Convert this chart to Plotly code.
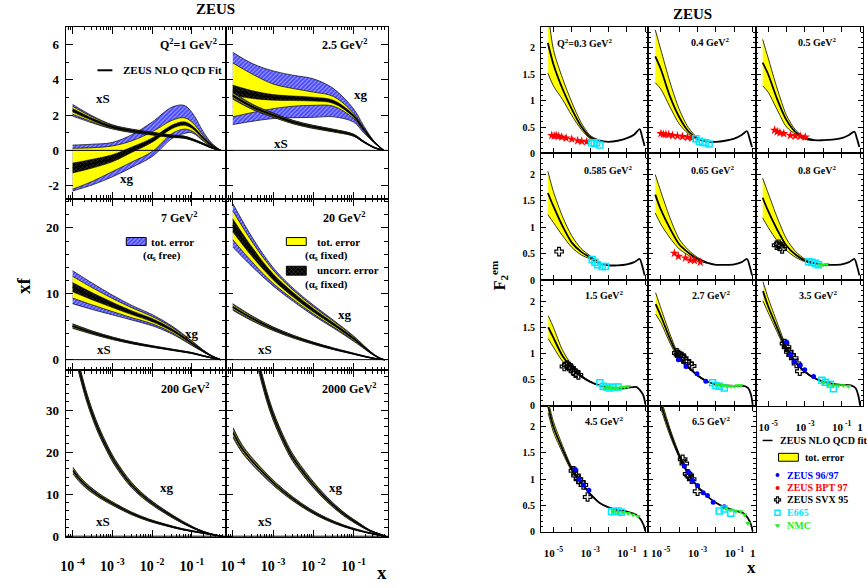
import plotly.graph_objects as go

W, H = 867, 588
SERIF = "Liberation Serif"

# ======================= LEFT: parton densities xf =======================
# log10(x) sample points and values
# ---- Q2 = 1 GeV2
LX_Q1 = [-4.0, -3.5, -3.0, -2.5, -2.0, -1.5, -1.2, -1.0, -0.7, -0.5, -0.28]
XG_Q1 = [-1.0, -0.75, -0.45, 0.05, 0.58, 1.33, 1.52, 1.33, 0.67, 0.28, 0.0]
XG_Q1_TOT_LO = [-2.3, -1.95, -1.5, -0.95, -0.35, 0.67, 0.95, 1.0, 0.5, 0.18, 0.0]
XG_Q1_TOT_HI = [0.3, 0.35, 0.45, 0.9, 1.6, 2.45, 2.55, 2.15, 1.0, 0.4, 0.0]
XG_Q1_FIX_LO = [-2.2, -1.75, -1.2, -0.65, -0.07, 0.95, 1.2, 1.1, 0.55, 0.2, 0.0]
XG_Q1_FIX_HI = [0.12, 0.15, 0.25, 0.55, 1.05, 1.7, 1.85, 1.6, 0.8, 0.35, 0.0]
XG_Q1_UNC = [0.28, 0.25, 0.2, 0.15, 0.12, 0.1, 0.1, 0.08, 0.06, 0.04, 0.0]
XS_Q1 = [2.27, 1.75, 1.33, 1.1, 0.95, 0.8, 0.75, 0.62, 0.35, 0.15, 0.0]
XS_Q1_TOT = [0.33, 0.2, 0.12, 0.1, 0.08, 0.07, 0.06, 0.05, 0.04, 0.03, 0.0]
XS_Q1_FIX = [0.22, 0.14, 0.09, 0.07, 0.06, 0.05, 0.05, 0.04, 0.03, 0.02, 0.0]
XS_Q1_UNC = [0.1, 0.07, 0.06, 0.05, 0.05, 0.04, 0.04, 0.03, 0.03, 0.02, 0.0]
# ---- Q2 = 2.5 GeV2
LX_Q25 = [-4.0, -3.5, -3.0, -2.5, -2.0, -1.5, -1.0, -0.75, -0.5, -0.25]
XG_Q25 = [3.4, 3.15, 3.0, 2.95, 2.9, 2.75, 1.95, 1.2, 0.5, 0.0]
XG_Q25_TOT_LO = [1.46, 1.65, 1.8, 1.85, 1.87, 1.9, 1.6, 1.0, 0.45, 0.0]
XG_Q25_TOT_HI = [5.55, 4.9, 4.5, 4.25, 4.05, 3.5, 2.35, 1.4, 0.55, 0.0]
XG_Q25_FIX_LO = [1.9, 2.15, 2.36, 2.5, 2.55, 2.5, 1.8, 1.1, 0.47, 0.0]
XG_Q25_FIX_HI = [4.95, 4.3, 3.76, 3.5, 3.3, 3.05, 2.1, 1.28, 0.53, 0.0]
XG_Q25_UNC = [0.3, 0.22, 0.16, 0.13, 0.11, 0.09, 0.07, 0.05, 0.03, 0.0]
XS_Q25 = [3.1, 2.45, 2.0, 1.6, 1.33, 1.12, 0.86, 0.49, 0.17, 0.0]
XS_Q25_TOT = [0.2, 0.15, 0.12, 0.1, 0.09, 0.08, 0.06, 0.04, 0.02, 0.0]
XS_Q25_FIX = [0.15, 0.11, 0.09, 0.08, 0.07, 0.06, 0.05, 0.03, 0.02, 0.0]
XS_Q25_UNC = [0.08, 0.06, 0.05, 0.05, 0.04, 0.04, 0.03, 0.02, 0.01, 0.0]
# ---- Q2 = 7 GeV2
LX_Q7 = [-4.0, -3.5, -3.0, -2.5, -2.0, -1.5, -1.0, -0.7, -0.5, -0.28]
XG_Q7 = [11.0, 9.6, 8.3, 7.1, 6.0, 4.5, 2.5, 1.25, 0.55, 0.0]
XG_Q7_TOT = [2.5, 2.0, 1.5, 1.1, 0.85, 0.6, 0.35, 0.15, 0.06, 0.0]
XG_Q7_FIX = [1.65, 1.3, 1.0, 0.75, 0.55, 0.4, 0.25, 0.1, 0.04, 0.0]
XG_Q7_UNC = [0.7, 0.55, 0.4, 0.3, 0.25, 0.18, 0.12, 0.06, 0.03, 0.0]
XS_Q7 = [5.1, 4.1, 3.25, 2.55, 2.0, 1.5, 1.0, 0.55, 0.27, 0.0]
XS_Q7_TOT = [0.35, 0.25, 0.2, 0.15, 0.12, 0.1, 0.08, 0.06, 0.04, 0.0]
XS_Q7_FIX = [0.25, 0.18, 0.14, 0.11, 0.09, 0.07, 0.06, 0.04, 0.03, 0.0]
XS_Q7_UNC = [0.12, 0.09, 0.07, 0.06, 0.05, 0.04, 0.03, 0.02, 0.02, 0.0]
# ---- Q2 = 20 GeV2
LX_Q20 = [-4.0, -3.5, -3.0, -2.5, -2.0, -1.5, -1.0, -0.7, -0.5, -0.3, -0.22]
XG_Q20 = [20.4, 16.2, 12.6, 9.85, 7.5, 5.4, 3.2, 1.7, 0.75, 0.1, 0.0]
XG_Q20_TOT = [3.3, 2.2, 1.4, 1.0, 0.8, 0.6, 0.4, 0.2, 0.1, 0.03, 0.0]
XG_Q20_FIX = [2.2, 1.5, 1.0, 0.7, 0.55, 0.42, 0.28, 0.14, 0.07, 0.02, 0.0]
XG_Q20_UNC = [1.0, 0.7, 0.45, 0.35, 0.28, 0.2, 0.14, 0.08, 0.04, 0.01, 0.0]
XS_Q20 = [8.0, 6.2, 4.7, 3.5, 2.5, 1.65, 0.9, 0.45, 0.2, 0.03, 0.0]
XS_Q20_TOT = [0.5, 0.38, 0.28, 0.22, 0.17, 0.13, 0.09, 0.06, 0.04, 0.01, 0.0]
XS_Q20_FIX = [0.36, 0.27, 0.2, 0.16, 0.12, 0.09, 0.06, 0.04, 0.03, 0.01, 0.0]
XS_Q20_UNC = [0.16, 0.12, 0.09, 0.07, 0.05, 0.04, 0.03, 0.02, 0.02, 0.0, 0.0]
# ---- Q2 = 200 GeV2
LX_Q200_G = [-4.0, -3.84, -3.675, -3.51, -3.34, -3.13, -2.925, -2.51, -2.09, -1.675, -1.26, -0.84, -0.59, -0.34, -0.25]
XG_Q200 = [46.0, 39.9, 34.0, 29.2, 25.1, 20.9, 17.4, 12.1, 8.5, 5.8, 3.45, 1.5, 0.7, 0.15, 0.0]
XG_Q200_TOT = [1.3, 1.2, 1.1, 1.0, 0.95, 0.85, 0.8, 0.65, 0.5, 0.4, 0.3, 0.15, 0.08, 0.03, 0.0]
XG_Q200_FIX = [0.9, 0.85, 0.78, 0.7, 0.66, 0.6, 0.55, 0.45, 0.35, 0.28, 0.2, 0.1, 0.05, 0.02, 0.0]
XG_Q200_UNC = [0.35, 0.32, 0.3, 0.28, 0.26, 0.24, 0.22, 0.18, 0.14, 0.11, 0.08, 0.04, 0.02, 0.01, 0.0]
LX_Q200_S = [-3.99, -3.76, -3.34, -2.925, -2.51, -2.09, -1.675, -1.26, -0.84, -0.51, -0.26]
XS_Q200 = [15.6, 12.9, 9.7, 7.4, 5.4, 3.85, 2.7, 1.7, 0.95, 0.4, 0.0]
XS_Q200_TOT = [0.8, 0.65, 0.5, 0.4, 0.32, 0.26, 0.2, 0.15, 0.1, 0.05, 0.0]
XS_Q200_FIX = [0.6, 0.48, 0.37, 0.3, 0.24, 0.19, 0.15, 0.11, 0.07, 0.04, 0.0]
XS_Q200_UNC = [0.25, 0.2, 0.16, 0.12, 0.1, 0.08, 0.06, 0.05, 0.03, 0.02, 0.0]
# ---- Q2 = 2000 GeV2
LX_Q2000_G = [-3.5, -3.34, -3.175, -3.01, -2.84, -2.675, -2.51, -2.09, -1.675, -1.26, -0.84, -0.59, -0.34, -0.2]
XG_Q2000 = [46.0, 39.9, 33.9, 29.0, 25.0, 21.6, 18.7, 13.3, 8.9, 5.4, 2.7, 1.3, 0.45, 0.0]
XG_Q2000_TOT = [1.4, 1.3, 1.2, 1.1, 1.0, 0.95, 0.9, 0.75, 0.6, 0.45, 0.3, 0.15, 0.06, 0.0]
XG_Q2000_FIX = [1.0, 0.95, 0.88, 0.8, 0.74, 0.7, 0.66, 0.55, 0.44, 0.33, 0.22, 0.11, 0.04, 0.0]
XG_Q2000_UNC = [0.45, 0.42, 0.4, 0.37, 0.34, 0.32, 0.3, 0.25, 0.2, 0.15, 0.1, 0.05, 0.02, 0.0]
LX_Q2000_S = [-3.99, -3.76, -3.34, -2.925, -2.51, -2.09, -1.675, -1.26, -0.84, -0.51, -0.26, -0.2]
XS_Q2000 = [24.6, 20.7, 16.0, 12.1, 8.9, 6.2, 4.1, 2.5, 1.3, 0.55, 0.1, 0.0]
XS_Q2000_TOT = [1.2, 0.95, 0.75, 0.6, 0.48, 0.38, 0.3, 0.22, 0.14, 0.07, 0.02, 0.0]
XS_Q2000_FIX = [0.9, 0.7, 0.55, 0.45, 0.36, 0.28, 0.22, 0.16, 0.1, 0.05, 0.01, 0.0]
XS_Q2000_UNC = [0.35, 0.28, 0.22, 0.18, 0.14, 0.11, 0.09, 0.06, 0.04, 0.02, 0.01, 0.0]

LEFT_XTICK_LX = [-4, -3, -2, -1]
LEFT_XTICK_TEXT = ["10<sup> -4</sup>", "10<sup> -3</sup>", "10<sup> -2</sup>", "10<sup> -1</sup>"]

# ======================= RIGHT: F2 em =======================
LXF_A = [-5.3, -5.0, -4.5, -4.0, -3.5, -3.0, -2.5, -2.0, -1.5, -1.0, -0.6, -0.31, -0.17, -0.04]
LXF_B = [-5.28, -5.0, -4.5, -4.0, -3.5, -3.0, -2.5, -2.0, -1.5, -1.0, -0.5, -0.25, -0.1, 0.0]
LXF_C = [-5.07, -5.0, -4.5, -4.0, -3.5, -3.0, -2.5, -2.0, -1.5, -1.0, -0.5, -0.25, -0.1, 0.0]

F2_Q03 = [2.09, 1.69, 1.22, 0.84, 0.52, 0.31, 0.24, 0.22, 0.24, 0.29, 0.36, 0.46, 0.31, 0.14]
F2_Q03_UP = [2.75, 1.97, 1.42, 0.97, 0.59, 0.34, 0.25]
F2_Q03_LO = [1.52, 1.28, 1.02, 0.72, 0.46, 0.28, 0.23]
F2_Q04 = [1.84, 1.6, 1.08, 0.69, 0.42, 0.28, 0.23, 0.22, 0.24, 0.28, 0.35, 0.42, 0.28, 0.12]
F2_Q04_UP = [2.34, 1.97, 1.35, 0.84, 0.49, 0.3, 0.24]
F2_Q04_LO = [1.34, 1.22, 0.88, 0.56, 0.37, 0.26, 0.22]
F2_Q05 = [1.72, 1.5, 1.02, 0.63, 0.4, 0.29, 0.25, 0.25, 0.26, 0.29, 0.35, 0.41, 0.28, 0.12]
F2_Q05_UP = [2.16, 1.81, 1.22, 0.72, 0.44, 0.31, 0.26]
F2_Q05_LO = [1.28, 1.16, 0.82, 0.5, 0.36, 0.27, 0.24]
F2_Q0585 = [1.65, 1.4, 1.02, 0.71, 0.54, 0.43, 0.32, 0.28, 0.28, 0.3, 0.34, 0.4, 0.27, 0.09]
F2_Q0585_UP = [2.06, 1.68, 1.2, 0.84, 0.6, 0.46, 0.33]
F2_Q0585_LO = [1.24, 1.09, 0.84, 0.62, 0.48, 0.4, 0.31]
F2_Q065 = [1.62, 1.34, 0.98, 0.68, 0.52, 0.4, 0.33, 0.29, 0.29, 0.3, 0.34, 0.4, 0.27, 0.09]
F2_Q065_UP = [2.0, 1.68, 1.18, 0.78, 0.57, 0.43, 0.34]
F2_Q065_LO = [1.27, 1.06, 0.8, 0.59, 0.47, 0.38, 0.32]
F2_Q08 = [1.56, 1.31, 0.95, 0.65, 0.48, 0.37, 0.32, 0.29, 0.29, 0.3, 0.34, 0.4, 0.27, 0.09]
F2_Q08_UP = [1.93, 1.65, 1.18, 0.78, 0.54, 0.4, 0.33]
F2_Q08_LO = [1.18, 1.0, 0.74, 0.56, 0.43, 0.35, 0.31]
F2_Q15 = [1.5, 1.3, 0.95, 0.73, 0.57, 0.46, 0.39, 0.35, 0.33, 0.34, 0.36, 0.28, 0.19, 0.03]
F2_Q15_UP = [1.72, 1.5, 1.06, 0.78, 0.59, 0.47, 0.395]
F2_Q15_LO = [1.28, 1.12, 0.85, 0.68, 0.55, 0.45, 0.385]
F2_Q27 = [1.94, 1.72, 1.28, 0.92, 0.74, 0.58, 0.47, 0.41, 0.39, 0.38, 0.38, 0.34, 0.22, 0.02]
F2_Q27_UP = [2.16, 1.87, 1.37, 0.96, 0.76, 0.59, 0.48]
F2_Q27_LO = [1.75, 1.59, 1.2, 0.88, 0.72, 0.57, 0.46]
F2_Q35 = [2.19, 1.9, 1.48, 1.08, 0.83, 0.65, 0.53, 0.46, 0.42, 0.4, 0.39, 0.34, 0.2, 0.0]
F2_Q35_UP = [2.37, 2.06, 1.58, 1.13, 0.85, 0.66, 0.54]
F2_Q35_LO = [2.0, 1.78, 1.4, 1.03, 0.8, 0.64, 0.52]
F2_Q45 = [2.38, 2.0, 1.57, 1.19, 0.94, 0.72, 0.55, 0.46, 0.41, 0.38, 0.32, 0.23, 0.13, 0.0]
F2_Q45_UP = [2.5, 2.1, 1.64, 1.23, 0.96, 0.73, 0.56]
F2_Q45_LO = [2.26, 1.9, 1.5, 1.15, 0.92, 0.71, 0.54]
F2_Q65 = [2.55, 2.45, 1.9, 1.45, 1.1, 0.86, 0.68, 0.55, 0.46, 0.4, 0.35, 0.25, 0.14, 0.0]
F2_Q65_UP = [2.65, 2.55, 1.97, 1.49, 1.12, 0.87, 0.69]
F2_Q65_LO = [2.45, 2.35, 1.83, 1.41, 1.08, 0.85, 0.67]

# data points (log10 x, F2)
Q03_BPT_LX = [-5.09, -4.96, -4.85, -4.73, -4.55, -4.31, -4.0, -3.68, -3.46, -3.19]
Q03_BPT_F2 = [0.34, 0.33, 0.34, 0.325, 0.31, 0.29, 0.27, 0.24, 0.23, 0.22]
Q03_E665_LX = [-2.92, -2.78, -2.65, -2.47]
Q03_E665_F2 = [0.2, 0.19, 0.2, 0.16]
Q04_BPT_LX = [-4.99, -4.86, -4.72, -4.57, -4.36, -4.09, -3.82, -3.55, -3.32]
Q04_BPT_F2 = [0.375, 0.36, 0.36, 0.356, 0.34, 0.33, 0.32, 0.306, 0.29]
Q04_E665_LX = [-3.09, -2.91, -2.73, -2.55, -2.37]
Q04_E665_F2 = [0.28, 0.23, 0.21, 0.2, 0.18]
Q05_BPT_LX = [-4.65, -4.51, -4.36, -4.15, -3.79, -3.52, -3.25, -2.98]
Q05_BPT_F2 = [0.44, 0.41, 0.39, 0.375, 0.34, 0.33, 0.325, 0.31]
Q0585_SVX_LX = [-4.69]
Q0585_SVX_F2 = [0.54]
Q0585_E665_LX = [-2.89, -2.74, -2.6, -2.35, -2.17]
Q0585_E665_F2 = [0.39, 0.34, 0.29, 0.26, 0.26]
Q065_BPT_LX = [-4.26, -4.04, -3.66, -3.39, -3.17, -2.85]
Q065_BPT_F2 = [0.51, 0.45, 0.42, 0.38, 0.37, 0.34]
Q08_SVX_LX = [-4.54, -4.42, -4.33, -4.24]
Q08_SVX_F2 = [0.66, 0.68, 0.64, 0.59]
Q08_E665_LX = [-2.8, -2.62, -2.44, -2.26]
Q08_E665_F2 = [0.35, 0.34, 0.32, 0.29]
Q08_NMC_LX = [-2.17, -1.99, -1.81]
Q08_NMC_F2 = [0.29, 0.29, 0.3]
Q15_SVX_LX = [-4.4, -4.27, -4.15, -4.04, -3.91, -3.79, -3.64]
Q15_SVX_F2 = [0.75, 0.78, 0.75, 0.72, 0.66, 0.625, 0.59]
Q15_E665_LX = [-2.47, -2.29, -2.11, -1.93, -1.75, -1.48]
Q15_E665_F2 = [0.44, 0.375, 0.36, 0.34, 0.36, 0.36]
Q15_NMC_LX = [-2.2, -2.02, -1.84, -1.66, -1.48, -1.3, -1.12, -0.94]
Q15_NMC_F2 = [0.34, 0.35, 0.34, 0.34, 0.34, 0.35, 0.36, 0.37]
Q27_SVX_LX = [-4.13, -4.04, -3.95, -3.86, -3.75, -3.63, -3.45, -3.32]
Q27_SVX_F2 = [1.01, 0.98, 0.95, 0.94, 0.91, 0.84, 0.8, 0.76]
Q27_ZEUS_LX = [-4.04, -3.63, -3.03, -2.55]
Q27_ZEUS_F2 = [0.88, 0.75, 0.61, 0.47]
Q27_E665_LX = [-2.18, -2.0, -1.82, -1.55]
Q27_E665_F2 = [0.44, 0.39, 0.375, 0.34]
Q27_NMC_LX = [-1.91, -1.73, -1.55, -1.37, -1.19, -1.01, -0.83, -0.65]
Q27_NMC_F2 = [0.4, 0.39, 0.39, 0.375, 0.375, 0.375, 0.39, 0.39]
Q35_SVX_LX = [-4.11, -4.0, -3.88, -3.75, -3.61, -3.46, -3.28]
Q35_SVX_F2 = [1.19, 1.12, 1.03, 0.97, 0.91, 0.81, 0.66]
Q35_ZEUS_LX = [-4.0, -3.78, -3.57, -3.25, -3.01, -2.53]
Q35_ZEUS_F2 = [1.22, 0.98, 0.84, 0.78, 0.69, 0.56]
Q35_E665_LX = [-2.08, -1.9, -1.63, -1.45]
Q35_E665_F2 = [0.49, 0.45, 0.41, 0.325]
Q35_NMC_LX = [-1.99, -1.72, -1.45, -1.18, -0.91, -0.64]
Q35_NMC_F2 = [0.44, 0.41, 0.39, 0.39, 0.39, 0.375]
Q45_SVX_LX = [-3.91, -3.77, -3.64, -3.5, -3.37, -3.14]
Q45_SVX_F2 = [1.16, 1.07, 1.0, 0.94, 0.89, 0.66]
Q45_ZEUS_LX = [-3.82, -3.61, -3.37, -3.07]
Q45_ZEUS_F2 = [1.19, 1.0, 0.89, 0.79]
Q45_E665_LX = [-1.84, -1.66, -1.48, -1.3]
Q45_E665_F2 = [0.38, 0.38, 0.39, 0.37]
Q45_NMC_LX = [-1.75, -1.48, -1.21, -0.94, -0.67, -0.4]
Q45_NMC_F2 = [0.38, 0.37, 0.37, 0.35, 0.32, 0.29]
Q65_SVX_LX = [-3.81, -3.72, -3.54, -3.45, -3.32, -3.0]
Q65_SVX_F2 = [1.38, 1.3, 1.1, 1.07, 1.0, 0.77]
Q65_ZEUS_LX = [-3.72, -3.5, -3.27, -3.0, -2.69, -2.46, -2.15, -1.55]
Q65_ZEUS_F2 = [1.25, 1.13, 0.975, 0.88, 0.74, 0.69, 0.56, 0.475]
Q65_E665_LX = [-1.82, -1.55, -1.19]
Q65_E665_F2 = [0.39, 0.43, 0.35]
Q65_NMC_LX = [-1.46, -1.19, -0.92, -0.65, -0.44, -0.26]
Q65_NMC_F2 = [0.44, 0.41, 0.39, 0.38, 0.32, 0.16]

RIGHT_XTICK_LX = [-5, -4, -3, -2, -1, 0]
RIGHT_XTICK_TEXT = ["10<sup> -5</sup>", "", "10<sup> -3</sup>", "", "10<sup> -1</sup>", "1"]
RIGHT_YTICKS = [0, 0.5, 1, 1.5, 2]
RIGHT_YTICK_TEXT = ["0", "0.5", "1", "1.5", "2"]

# ======================= helpers =======================
def fx(p):
    return p / W

def fy(p):
    return 1 - p / H

fig = go.Figure()
layout_axes = {}
n_ax = [0]

BLACK = "black"
BLUE_PAT = dict(shape="/", bgcolor="#4747ff", fgcolor="#ffffff", size=3, solidity=0.35)
UNC_PAT = dict(shape="x", bgcolor="#000000", fgcolor="#8a8a8a", size=3, solidity=0.3)
YELLOW = "#ffff00"


def new_axes(x0, x1, y0, y1, xr, yr, xtv, xtt, xminor, ytv, ytt, yminor, show_x, show_y,
             fsize, xfsize, tlen, xstand):
    n_ax[0] += 1
    i = n_ax[0]
    s = "" if i == 1 else str(i)
    tf = dict(family=SERIF, size=fsize, color=BLACK, weight="bold")
    xtf = dict(family=SERIF, size=xfsize, color=BLACK, weight="bold")
    xa = dict(type="log", domain=[fx(x0), fx(x1)], range=xr, anchor="y" + s,
              showline=True, linecolor=BLACK, linewidth=1, mirror="ticks",
              ticks="inside", ticklen=tlen, tickwidth=1, tickcolor=BLACK,
              tickmode="array", tickvals=[10 ** v for v in xtv], ticktext=xtt,
              showticklabels=show_x, tickfont=xtf, showgrid=False, zeroline=False,
              ticklabelstandoff=xstand)
    if xminor:
        xa["minor"] = dict(ticks="inside", ticklen=tlen * 0.5, tickcolor=BLACK,
                           tickmode="array", tickvals=xminor, showgrid=False)
    ya = dict(domain=[fy(y1), fy(y0)], range=yr, anchor="x" + s,
              showline=True, linecolor=BLACK, linewidth=1, mirror="ticks",
              ticks="inside", ticklen=tlen, tickwidth=1, tickcolor=BLACK,
              tickmode="array", tickvals=ytv, ticktext=ytt, showticklabels=show_y,
              tickfont=tf, showgrid=False, zeroline=False, ticklabelstandoff=3,
              minor=dict(ticks="inside", ticklen=tlen * 0.5, tickcolor=BLACK,
                         dtick=yminor, tick0=0, showgrid=False))
    layout_axes["xaxis" + s] = xa
    layout_axes["yaxis" + s] = ya
    return "x" + s, "y" + s


def band(xa, ya, lx, lo, hi, color=None, pattern=None, lw=0.7, sm=0.8):
    xs = [10 ** v for v in lx]
    fig.add_trace(go.Scatter(x=xs, y=lo, xaxis=xa, yaxis=ya, mode="lines",
                             line=dict(color=BLACK, width=lw, shape="spline", smoothing=sm),
                             hoverinfo="skip", showlegend=False))
    kw = dict(fill="tonexty")
    if pattern:
        kw["fillpattern"] = pattern
        kw["fillcolor"] = pattern["bgcolor"]
    else:
        kw["fillcolor"] = color
    fig.add_trace(go.Scatter(x=xs, y=hi, xaxis=xa, yaxis=ya, mode="lines",
                             line=dict(color=BLACK, width=lw, shape="spline", smoothing=sm),
                             hoverinfo="skip", showlegend=False, **kw))


def line(xa, ya, lx, ys, width=1.5, sm=0.8):
    fig.add_trace(go.Scatter(x=[10 ** v for v in lx], y=ys, xaxis=xa, yaxis=ya, mode="lines",
                             line=dict(color=BLACK, width=width, shape="spline", smoothing=sm),
                             hoverinfo="skip", showlegend=False))


def pm(c, h, sign):
    return [a + sign * b for a, b in zip(c, h)]


def pdf_curve(xa, ya, lx, c, tot, fix, unc):
    tlo, thi = tot if isinstance(tot, tuple) else (pm(c, tot, -1), pm(c, tot, 1))
    flo, fhi = fix if isinstance(fix, tuple) else (pm(c, fix, -1), pm(c, fix, 1))
    band(xa, ya, lx, tlo, thi, pattern=BLUE_PAT, sm=1.0)
    band(xa, ya, lx, flo, fhi, color=YELLOW, sm=1.0)
    band(xa, ya, lx, pm(c, unc, -1), pm(c, unc, 1), pattern=UNC_PAT, lw=0.5, sm=1.0)
    line(xa, ya, lx, c, width=1.2, sm=1.0)


def text(x, y, s, size, anchor="center", color=BLACK, angle=0):
    fig.add_annotation(x=fx(x), y=fy(y), xref="paper", yref="paper", text="<b>" + s + "</b>",
                       showarrow=False, xanchor=anchor, yanchor="middle", textangle=angle,
                       font=dict(family=SERIF, size=size, color=color))


# ======================= LEFT panels =======================
L_COLS = [(61, 222), (222, 385)]
L_ROWS = [(27, 201), (201, 374), (374, 543)]
L_XR = [-4.175, -0.15]
L_XMINOR = [k * 10 ** e for e in range(-5, 1) for k in range(2, 10)]
L_Y = [([-2.75, 7.0], [-2, 0, 2, 4, 6], 1),
       ([-1.6, 24.4], [0, 10, 20], 2),
       ([-0.3, 39.5], [0, 10, 20, 30], 2)]

left_panels = [
    (0, 0, [(LX_Q1, XG_Q1, (XG_Q1_TOT_LO, XG_Q1_TOT_HI), (XG_Q1_FIX_LO, XG_Q1_FIX_HI), XG_Q1_UNC),
            (LX_Q1, XS_Q1, XS_Q1_TOT, XS_Q1_FIX, XS_Q1_UNC)]),
    (0, 1, [(LX_Q25, XG_Q25, (XG_Q25_TOT_LO, XG_Q25_TOT_HI), (XG_Q25_FIX_LO, XG_Q25_FIX_HI), XG_Q25_UNC),
            (LX_Q25, XS_Q25, XS_Q25_TOT, XS_Q25_FIX, XS_Q25_UNC)]),
    (1, 0, [(LX_Q7, XG_Q7, XG_Q7_TOT, XG_Q7_FIX, XG_Q7_UNC),
            (LX_Q7, XS_Q7, XS_Q7_TOT, XS_Q7_FIX, XS_Q7_UNC)]),
    (1, 1, [(LX_Q20, XG_Q20, XG_Q20_TOT, XG_Q20_FIX, XG_Q20_UNC),
            (LX_Q20, XS_Q20, XS_Q20_TOT, XS_Q20_FIX, XS_Q20_UNC)]),
    (2, 0, [(LX_Q200_G, XG_Q200, XG_Q200_TOT, XG_Q200_FIX, XG_Q200_UNC),
            (LX_Q200_S, XS_Q200, XS_Q200_TOT, XS_Q200_FIX, XS_Q200_UNC)]),
    (2, 1, [(LX_Q2000_G, XG_Q2000, XG_Q2000_TOT, XG_Q2000_FIX, XG_Q2000_UNC),
            (LX_Q2000_S, XS_Q2000, XS_Q2000_TOT, XS_Q2000_FIX, XS_Q2000_UNC)]),
]

shapes = []
for r, c, curves in left_panels:
    (x0, x1), (y0, y1) = L_COLS[c], L_ROWS[r]
    yr, ytv, ymin = L_Y[r]
    xa, ya = new_axes(x0, x1, y0, y1, L_XR, yr, LEFT_XTICK_LX, LEFT_XTICK_TEXT, L_XMINOR,
                      ytv, [str(v) for v in ytv], ymin, r == 2, c == 0, 13, 14, 7, 16)
    for cv in curves:
        pdf_curve(xa, ya, *cv)
    shapes.append(dict(type="line", xref=xa + " domain", yref=ya, x0=0, x1=1, y0=0, y1=0,
                       line=dict(color=BLACK, width=1), layer="above"))

# ======================= RIGHT panels =======================
R_COLS = [(539, 647), (647, 755), (755, 863)]
R_ROWS = [(27, 155), (155, 283), (283, 410), (410, 537)]
R_XR = [-5.68, 0.16]
R_YR = [0, 2.4]

SYM = {
    "ZEUS": dict(symbol="circle", size=5, color="#0000ff"),
    "BPT": dict(symbol="star", size=7, color="#ff0000"),
    "SVX": dict(symbol="cross-open", size=7, color="#000000", line=dict(width=1.2, color="#000000")),
    "E665": dict(symbol="square-open", size=6, color="#00e8ff", line=dict(width=1.5, color="#00e8ff")),
    "NMC": dict(symbol="triangle-down", size=5, color="#22ee22"),
}

right_panels = [
    (0, 0, LXF_A, F2_Q03, F2_Q03_UP, F2_Q03_LO, [("BPT", Q03_BPT_LX, Q03_BPT_F2), ("E665", Q03_E665_LX, Q03_E665_F2)]),
    (0, 1, LXF_A, F2_Q04, F2_Q04_UP, F2_Q04_LO, [("BPT", Q04_BPT_LX, Q04_BPT_F2), ("E665", Q04_E665_LX, Q04_E665_F2)]),
    (0, 2, LXF_A, F2_Q05, F2_Q05_UP, F2_Q05_LO, [("BPT", Q05_BPT_LX, Q05_BPT_F2)]),
    (1, 0, LXF_A, F2_Q0585, F2_Q0585_UP, F2_Q0585_LO, [("SVX", Q0585_SVX_LX, Q0585_SVX_F2), ("E665", Q0585_E665_LX, Q0585_E665_F2)]),
    (1, 1, LXF_A, F2_Q065, F2_Q065_UP, F2_Q065_LO, [("BPT", Q065_BPT_LX, Q065_BPT_F2)]),
    (1, 2, LXF_A, F2_Q08, F2_Q08_UP, F2_Q08_LO, [("SVX", Q08_SVX_LX, Q08_SVX_F2), ("E665", Q08_E665_LX, Q08_E665_F2), ("NMC", Q08_NMC_LX, Q08_NMC_F2)]),
    (2, 0, LXF_B, F2_Q15, F2_Q15_UP, F2_Q15_LO, [("SVX", Q15_SVX_LX, Q15_SVX_F2), ("E665", Q15_E665_LX, Q15_E665_F2), ("NMC", Q15_NMC_LX, Q15_NMC_F2)]),
    (2, 1, LXF_B, F2_Q27, F2_Q27_UP, F2_Q27_LO, [("SVX", Q27_SVX_LX, Q27_SVX_F2), ("ZEUS", Q27_ZEUS_LX, Q27_ZEUS_F2), ("E665", Q27_E665_LX, Q27_E665_F2), ("NMC", Q27_NMC_LX, Q27_NMC_F2)]),
    (2, 2, LXF_B, F2_Q35, F2_Q35_UP, F2_Q35_LO, [("SVX", Q35_SVX_LX, Q35_SVX_F2), ("ZEUS", Q35_ZEUS_LX, Q35_ZEUS_F2), ("E665", Q35_E665_LX, Q35_E665_F2), ("NMC", Q35_NMC_LX, Q35_NMC_F2)]),
    (3, 0, LXF_B, F2_Q45, F2_Q45_UP, F2_Q45_LO, [("SVX", Q45_SVX_LX, Q45_SVX_F2), ("ZEUS", Q45_ZEUS_LX, Q45_ZEUS_F2), ("E665", Q45_E665_LX, Q45_E665_F2), ("NMC", Q45_NMC_LX, Q45_NMC_F2)]),
    (3, 1, LXF_C, F2_Q65, F2_Q65_UP, F2_Q65_LO, [("SVX", Q65_SVX_LX, Q65_SVX_F2), ("ZEUS", Q65_ZEUS_LX, Q65_ZEUS_F2), ("E665", Q65_E665_LX, Q65_E665_F2), ("NMC", Q65_NMC_LX, Q65_NMC_F2)]),
]

for r, c, lx, f2, up, lo, pts in right_panels:
    (x0, x1), (y0, y1) = R_COLS[c], R_ROWS[r]
    show_x = (r == 3) or (r == 2 and c == 2)
    xa, ya = new_axes(x0, x1, y0, y1, R_XR, R_YR, RIGHT_XTICK_LX, RIGHT_XTICK_TEXT, None,
                      RIGHT_YTICKS, RIGHT_YTICK_TEXT, 0.1, show_x, c == 0, 10, 11, 5, 11)
    band(xa, ya, lx[:len(up)], lo, up, color=YELLOW, lw=0.8)
    line(xa, ya, lx, f2, width=1.8)
    for name, plx, pf2 in pts:
        fig.add_trace(go.Scatter(x=[10 ** v for v in plx], y=pf2, xaxis=xa, yaxis=ya, mode="markers",
                                 marker=SYM[name], hoverinfo="skip", showlegend=False, cliponaxis=False))

# ======================= overlay axis for legend glyphs =======================
n_ax[0] += 1
so = str(n_ax[0])
layout_axes["xaxis" + so] = dict(domain=[0, 1], range=[0, W], visible=False, anchor="y" + so)
layout_axes["yaxis" + so] = dict(domain=[0, 1], range=[H, 0], visible=False, anchor="x" + so)
OX, OY = "x" + so, "y" + so


def glyph_box(x0, x1, y0, y1, color=None, pattern=None):
    kw = dict(fill="toself")
    if pattern:
        kw["fillpattern"] = pattern
        kw["fillcolor"] = pattern["bgcolor"]
    else:
        kw["fillcolor"] = color
    fig.add_trace(go.Scatter(x=[x0, x1, x1, x0, x0], y=[y0, y0, y1, y1, y0], xaxis=OX, yaxis=OY,
                             mode="lines", line=dict(color=BLACK, width=1), hoverinfo="skip",
                             showlegend=False, **kw))


def glyph_line(x0, x1, y, w):
    fig.add_trace(go.Scatter(x=[x0, x1], y=[y, y], xaxis=OX, yaxis=OY, mode="lines",
                             line=dict(color=BLACK, width=w), hoverinfo="skip", showlegend=False))


glyph_line(93, 108, 71, 2)
glyph_box(122, 142, 240, 248, pattern=BLUE_PAT)
glyph_box(283, 303, 240, 248, color=YELLOW)
glyph_box(283, 303, 269, 278, pattern=UNC_PAT)
glyph_line(762, 772, 445, 1.5)
glyph_box(778, 798, 458, 466, color=YELLOW)
LEG_ITEMS = [("ZEUS", "ZEUS 96/97", "#0000ff", 480), ("BPT", "ZEUS BPT 97", "#ff0000", 493),
             ("SVX", "ZEUS SVX 95", "#000000", 505), ("E665", "E665", "#00e8ff", 518),
             ("NMC", "NMC", "#22ee22", 531)]
for key, lab, col, yy in LEG_ITEMS:
    mk = dict(SYM[key])
    mk["size"] = 4 if key in ("ZEUS", "BPT") else 5
    if key == "BPT":
        mk["symbol"] = "circle"
    fig.add_trace(go.Scatter(x=[777], y=[yy], xaxis=OX, yaxis=OY, mode="markers", marker=mk,
                             hoverinfo="skip", showlegend=False))
    text(785, yy, lab, 10, anchor="left", color=col)

# ======================= texts =======================
text(212, 9, "ZEUS", 15)
text(691, 14, "ZEUS", 15)
text(18, 288, "xf", 19, angle=-90)
text(379, 578, "x", 19)
text(751, 573, "x", 17)
text(497, 278, "F<sub>2</sub><sup>em</sup>", 16, angle=-90)

# left panel labels
text(185, 45, "Q<sup>2</sup>=1 GeV<sup>2</sup>", 12)
text(342, 45, "2.5 GeV<sup>2</sup>", 12)
text(176, 220, "7 GeV<sup>2</sup>", 12)
text(341, 220, "20 GeV<sup>2</sup>", 12)
text(182, 393, "200 GeV<sup>2</sup>", 12)
text(347, 393, "2000 GeV<sup>2</sup>", 12)
text(117, 71, "ZEUS NLO QCD Fit", 11, anchor="left")
text(145, 244, "tot. error", 11, anchor="left")
text(158, 259, "(α<sub>s</sub> free)", 11)
text(312, 244, "tot. error", 11, anchor="left")
text(323, 259, "(α<sub>s</sub> fixed)", 11)
text(312, 273, "uncorr. error", 11, anchor="left")
text(323, 288, "(α<sub>s</sub> fixed)", 11)
for (xx, yy, s) in [(99, 100, "xS"), (123, 180, "xg"), (278, 145, "xS"), (358, 95, "xg"),
                    (188, 337, "xg"), (100, 353, "xS"), (342, 318, "xg"), (262, 353, "xS"),
                    (163, 493, "xg"), (99, 527, "xS"), (333, 493, "xg"), (262, 527, "xS")]:
    text(xx, yy, s, 13)

# right panel labels
for (xx, yy, s) in [(583, 43, "Q<sup>2</sup>=0.3 GeV<sup>2</sup>"), (709, 42, "0.4 GeV<sup>2</sup>"),
                    (817, 42, "0.5 GeV<sup>2</sup>"), (607, 172, "0.585 GeV<sup>2</sup>"),
                    (712, 172, "0.65 GeV<sup>2</sup>"), (817, 172, "0.8 GeV<sup>2</sup>"),
                    (602, 298, "1.5 GeV<sup>2</sup>"), (710, 298, "2.7 GeV<sup>2</sup>"),
                    (818, 298, "3.5 GeV<sup>2</sup>"), (602, 425, "4.5 GeV<sup>2</sup>"),
                    (710, 425, "6.5 GeV<sup>2</sup>")]:
    text(xx, yy, s, 10)
text(777, 445, "ZEUS NLO QCD fit", 10, anchor="left")
text(803, 462, "tot. error", 10, anchor="left")

fig.update_layout(width=W, height=H, margin=dict(l=0, r=0, t=0, b=0), autosize=False,
                  paper_bgcolor="white", plot_bgcolor="rgba(0,0,0,0)", showlegend=False,
                  shapes=shapes, **layout_axes)
fig.write_html("out.html")
